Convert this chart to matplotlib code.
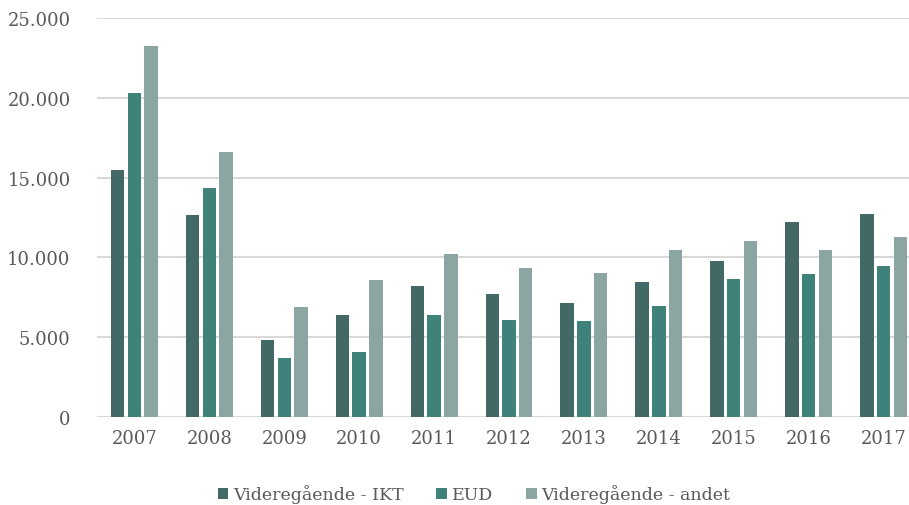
import matplotlib
matplotlib.use("Agg")
import matplotlib.pyplot as plt
import numpy as np

# data
years = ["2007", "2008", "2009", "2010", "2011", "2012",
         "2013", "2014", "2015", "2016", "2017"]
ikt = [15480, 12650, 4850, 6360, 8230, 7690, 7150, 8480, 9770, 12210, 12690]
eud = [20300, 14350, 3670, 4080, 6420, 6060, 6000, 6980, 8630, 8980, 9480]
andet = [23250, 16600, 6920, 8580, 10210, 9350, 9020, 10440, 11020, 10480, 11250]
series_names = ["Videregående - IKT", "EUD", "Videregående - andet"]
colors = ["#436966", "#3f8279", "#8ba5a3"]

plt.rcParams["font.family"] = "DejaVu Serif"
text_color = "#595959"
grid_color = "#d9d9d9"

fig = plt.figure(figsize=(9.09, 5.06), dpi=100)
# axes extends a bit past the right edge, like the cropped original
ax = fig.add_axes([97 / 909, 88 / 506, 824 / 909, 399 / 506])

x = np.arange(len(years))
step = 0.223
for i, (vals, name, col) in enumerate(zip([ikt, eud, andet], series_names, colors)):
    ax.bar(x + (i - 1) * step, vals, width=0.18, color=col, label=name, zorder=3)

ax.set_xlim(-0.5, len(years) - 0.5)
ax.set_ylim(0, 25000)
ax.set_yticks(np.arange(0, 25001, 5000))
ax.set_yticklabels([f"{v:,}".replace(",", ".") for v in range(0, 25001, 5000)])
ax.set_xticks(x)
ax.set_xticklabels(years)

ax.grid(axis="y", color=grid_color, linewidth=1.5, zorder=0)
for s in ax.spines.values():
    s.set_visible(False)
ax.tick_params(axis="both", length=0, labelsize=13, colors=text_color)
ax.tick_params(axis="y", pad=19)
ax.tick_params(axis="x", pad=9)

fig.legend(loc="center", bbox_to_anchor=(474 / 909, 1 - 495 / 506), ncol=3,
           frameon=False, fontsize=12.5, labelcolor=text_color,
           handlelength=0.63, handleheight=0.63, handletextpad=0.29,
           columnspacing=1.85)

fig.savefig("out.png", dpi=100)
